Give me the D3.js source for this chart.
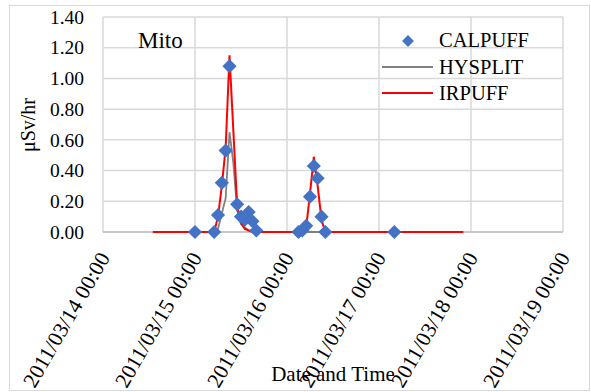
<!DOCTYPE html>
<meta charset="utf-8">
<style>
body { margin: 0; background: #fff; }
text { font-family: "Liberation Serif", "Times New Roman", serif; fill: #000; }
.grid line { stroke: #d9d9d9; stroke-width: 1.5px; }
.axis path, .axis line { display: none; }
</style>
<svg width="591" height="392"></svg>
<script src="https://d3js.org/d3.v7.min.js"></script>
<script>
// CALPUFF points (hourly dose rate, uSv/hr)
var calpuffTimes = ["2011/03/15 00:00", "2011/03/15 05:00", "2011/03/15 06:00", "2011/03/15 07:00",
  "2011/03/15 08:00", "2011/03/15 09:00", "2011/03/15 11:00", "2011/03/15 12:00", "2011/03/15 13:00",
  "2011/03/15 14:00", "2011/03/15 15:00", "2011/03/15 16:00", "2011/03/16 03:00", "2011/03/16 04:00",
  "2011/03/16 05:00", "2011/03/16 06:00", "2011/03/16 07:00", "2011/03/16 08:00", "2011/03/16 09:00",
  "2011/03/16 10:00", "2011/03/17 04:00"];
var calpuffValues = [0, 0, 0.11, 0.32, 0.53, 1.08, 0.18, 0.10, 0.08, 0.13, 0.07, 0.01, 0, 0.01,
  0.04, 0.23, 0.43, 0.35, 0.10, 0, 0];

var hysplitTimes = ["2011/03/14 13:00", "2011/03/15 05:00", "2011/03/15 06:00", "2011/03/15 07:00",
  "2011/03/15 08:00", "2011/03/15 09:00", "2011/03/15 10:00", "2011/03/15 11:00", "2011/03/15 12:00",
  "2011/03/15 14:00", "2011/03/15 16:00", "2011/03/17 14:00"];
var hysplitValues = [0, 0, 0.02, 0.12, 0.22, 0.65, 0.45, 0.14, 0.05, 0.01, 0, 0];

var irpuffTimes = ["2011/03/14 13:00", "2011/03/15 05:00", "2011/03/15 06:00", "2011/03/15 07:00",
  "2011/03/15 08:00", "2011/03/15 09:00", "2011/03/15 10:00", "2011/03/15 11:00", "2011/03/15 12:00",
  "2011/03/15 13:00", "2011/03/15 15:00", "2011/03/16 04:00", "2011/03/16 05:00", "2011/03/16 06:00",
  "2011/03/16 07:00", "2011/03/16 08:00", "2011/03/16 09:00", "2011/03/16 10:00", "2011/03/17 22:00"];
var irpuffValues = [0, 0, 0.10, 0.30, 0.55, 1.15, 0.66, 0.17, 0.06, 0.02, 0, 0, 0.03, 0.25,
  0.49, 0.30, 0.08, 0, 0];

var xDomain = ["2011/03/14 00:00", "2011/03/19 00:00"];
var yTicks = [0, 0.2, 0.4, 0.6, 0.8, 1.0, 1.2, 1.4];
var seriesNames = ["CALPUFF", "HYSPLIT", "IRPUFF"];

var parse = d3.timeParse("%Y/%m/%d %H:%M");
var fmt = d3.timeFormat("%Y/%m/%d %H:%M");
function pairs(t, v) { return t.map(function(d, i) { return {t: parse(d), v: v[i]}; }); }
var calpuff = pairs(calpuffTimes, calpuffValues),
    hysplit = pairs(hysplitTimes, hysplitValues),
    irpuff = pairs(irpuffTimes, irpuffValues);

var svg = d3.select("svg"),
    margin = {top: 17, right: 28, bottom: 160, left: 103},
    width = 591 - margin.left - margin.right,
    height = 392 - margin.top - margin.bottom;

// outer chart border
svg.append("rect")
    .attr("x", 9.5).attr("y", 5.5).attr("width", 580).attr("height", 385)
    .attr("fill", "none").attr("stroke", "#d9d9d9");

var g = svg.append("g").attr("transform", "translate(" + margin.left + "," + margin.top + ")");

var x = d3.scaleTime().domain(xDomain.map(parse)).range([0, width]);
var y = d3.scaleLinear().domain([0, 1.4]).range([height, 0]);
var xTicks = x.ticks(d3.timeDay.every(1));

g.append("g").attr("class", "grid")
  .selectAll("line.h").data(yTicks).enter().append("line")
    .attr("x1", 0).attr("x2", width)
    .attr("y1", function(d) { return y(d); }).attr("y2", function(d) { return y(d); });
g.append("g").attr("class", "grid")
  .selectAll("line.v").data(xTicks).enter().append("line")
    .attr("x1", function(d) { return x(d); }).attr("x2", function(d) { return x(d); })
    .attr("y1", 0).attr("y2", height);

g.append("line")
    .attr("x1", 0).attr("x2", width).attr("y1", height).attr("y2", height)
    .attr("stroke", "#bfbfbf").attr("stroke-width", 1.5);

// y axis
g.append("g").attr("class", "axis")
    .call(d3.axisLeft(y).tickValues(yTicks).tickFormat(d3.format(".2f")).tickSize(0).tickPadding(19))
  .selectAll("text")
    .style("font-size", "19.5px");

// x axis labels, rotated
g.append("g")
  .selectAll("text").data(xTicks).enter().append("text")
    .attr("transform", function(d) { return "translate(" + (x(d) + 1) + "," + (height + 22) + ") rotate(-60)"; })
    .attr("dy", "0.35em")
    .attr("text-anchor", "end")
    .style("font-size", "21.5px")
    .text(function(d) { return fmt(d); });

var line = d3.line()
    .x(function(d) { return x(d.t); })
    .y(function(d) { return y(d.v); });

g.append("path").datum(hysplit)
    .attr("fill", "none").attr("stroke", "#808080").attr("stroke-width", 1.8)
    .attr("d", line);
g.append("path").datum(irpuff)
    .attr("fill", "none").attr("stroke", "#ff0000").attr("stroke-width", 2)
    .attr("d", line);

g.selectAll(".pt").data(calpuff).enter().append("path")
    .attr("class", "pt")
    .attr("transform", function(d) { return "translate(" + x(d.t) + "," + y(d.v) + ") rotate(45)"; })
    .attr("d", d3.symbol().type(d3.symbolSquare).size(100))
    .attr("fill", "#4472c4");

// titles
svg.append("text")
    .attr("x", 138).attr("y", 48)
    .style("font-size", "23px")
    .text("Mito");

svg.append("text")
    .attr("transform", "translate(35,125) rotate(-90)")
    .attr("text-anchor", "middle")
    .style("font-size", "20px")
    .text("μSv/hr");

svg.append("text")
    .attr("x", 333).attr("y", 381)
    .attr("text-anchor", "middle")
    .style("font-size", "21px")
    .text("Date and Time");

// legend
var legend = svg.append("g");
legend.append("path")
    .attr("transform", "translate(408,41) rotate(45)")
    .attr("d", d3.symbol().type(d3.symbolSquare).size(70))
    .attr("fill", "#4472c4");
legend.append("line").attr("x1", 382).attr("x2", 433).attr("y1", 67).attr("y2", 67)
    .attr("stroke", "#808080").attr("stroke-width", 1.8);
legend.append("line").attr("x1", 382).attr("x2", 433).attr("y1", 93).attr("y2", 93)
    .attr("stroke", "#ff0000").attr("stroke-width", 2);
legend.selectAll(".lt").data(seriesNames).enter().append("text")
    .attr("x", 439)
    .attr("y", function(d, i) { return 47 + i * 26.5; })
    .style("font-size", "20.5px")
    .text(function(d) { return d; });
</script>
